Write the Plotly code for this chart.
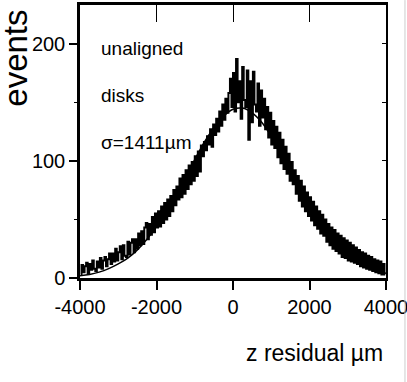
import plotly.graph_objects as go

# histogram of z residuals, 40 um bins from -4000 to 4000
bin_width = 40
bin_centers = list(range(-3980, 4000, bin_width))
counts = [
    3, 11, 5, 10, 13, 4, 12, 7, 15, 8, 6, 14, 9, 17, 8, 15, 18, 10, 16, 21,
    12, 21, 14, 25, 15, 22, 27, 16, 28, 19, 18, 31, 20, 30, 33, 22, 33, 25, 38, 28,
    40, 29, 43, 47, 33, 46, 37, 52, 39, 55, 43, 57, 44, 61, 47, 64, 50, 67, 53, 70,
    57, 75, 62, 78, 67, 85, 69, 88, 72, 92, 76, 96, 80, 99, 83, 104, 87, 108, 91, 113,
    104, 116, 109, 121, 114, 127, 112, 131, 122, 136, 125, 142, 130, 148, 135, 153, 141, 158, 170, 146,
    175, 142, 187, 150, 168, 136, 180, 152, 146, 177, 118, 168, 133, 176, 148, 142, 166, 130, 160, 137,
    153, 127, 146, 120, 141, 114, 134, 111, 129, 103, 124, 98, 118, 93, 112, 89, 106, 83, 99, 80,
    92, 72, 87, 66, 83, 61, 78, 57, 73, 53, 69, 49, 65, 45, 61, 42, 57, 38, 54, 36,
    50, 31, 46, 28, 43, 25, 41, 23, 38, 21, 36, 18, 34, 17, 32, 15, 30, 14, 28, 13,
    26, 12, 24, 10, 22, 9, 21, 8, 19, 7, 18, 6, 16, 5, 15, 4, 14, 3, 12, 3,
]

# gaussian fit curve
fit_x = list(range(-4000, 4001, 250))
fit_y = [2, 3, 5, 8, 12, 17, 24, 33, 44, 57, 71, 86, 101, 116, 128, 138, 144,
         145, 141, 133, 121, 107, 92, 77, 62, 49, 37, 27, 19, 13, 9, 6, 4]

x_ticks = [-4000, -2000, 0, 2000, 4000]
x_labels = ["-4000", "-2000", "0", "2000", "4000"]
y_ticks = [0, 100, 200]

sans = "Liberation Sans, Arial"

fig = go.Figure()
fig.add_trace(go.Scatter(x=bin_centers, y=counts, mode="lines", line_shape="hvh",
                         line=dict(color="black", width=2), showlegend=False))
fig.add_trace(go.Scatter(x=fit_x, y=fit_y, mode="lines", line_shape="spline",
                         line=dict(color="black", width=1.5), showlegend=False))
# dummy trace for the top/right axes
fig.add_trace(go.Scatter(x=[0], y=[0], xaxis="x2", yaxis="y2", mode="markers",
                         marker=dict(opacity=0), showlegend=False, hoverinfo="skip"))

fig.update_layout(
    width=407, height=382,
    margin=dict(l=80, r=21, t=5, b=104),
    paper_bgcolor="white", plot_bgcolor="white",
    font=dict(family=sans, color="black", size=20),
    xaxis=dict(range=[-4000, 4000], tickvals=x_ticks, ticktext=x_labels,
               ticks="outside", ticklen=9, tickwidth=1.5, tickcolor="black",
               showgrid=False, zeroline=False, showline=True, linecolor="black",
               linewidth=3, ticklabeloverflow="allow", automargin=False,
               tickfont=dict(family=sans, size=20)),
    yaxis=dict(range=[0, 233], tickvals=y_ticks, ticks="outside", ticklen=8,
               tickwidth=1.5, tickcolor="black", showgrid=False, zeroline=False,
               showline=True, linecolor="black", linewidth=2.5, automargin=False,
               minor=dict(tickvals=[50, 150], ticks="outside", ticklen=3,
                          tickcolor="black", tickwidth=1, showgrid=False),
               tickfont=dict(family=sans, size=20)),
    xaxis2=dict(range=[-4000, 4000], overlaying="x", side="top",
                tickvals=[-2000, 0, 2000], ticks="inside", ticklen=17, tickwidth=1,
                tickcolor="black", showticklabels=False, showgrid=False,
                zeroline=False, showline=True, linecolor="black", linewidth=2.5),
    yaxis2=dict(range=[0, 233], overlaying="y", side="right",
                tickvals=[50, 100, 150, 200], ticks="inside", ticklen=4, tickwidth=1,
                tickcolor="black", showticklabels=False, showgrid=False,
                zeroline=False, showline=True, linecolor="black", linewidth=2),
)

for label, ypos in [("unaligned", 0.839), ("disks", 0.667), ("σ=1411µm", 0.498)]:
    fig.add_annotation(text=label, x=0.062, y=ypos, xref="paper", yref="paper",
                       xanchor="left", yanchor="middle", showarrow=False,
                       font=dict(family=sans, size=19))
fig.add_annotation(text="events", x=-0.21, y=0.806, xref="paper", yref="paper",
                   textangle=-90, xanchor="center", yanchor="middle", showarrow=False,
                   font=dict(family=sans, size=33))
fig.add_annotation(text="z residual µm", x=0.997, y=-0.275, xref="paper", yref="paper",
                   xanchor="right", yanchor="middle", showarrow=False,
                   font=dict(family=sans, size=23))

# thin grey page edge on the right
fig.add_shape(type="line", xref="paper", yref="paper", x0=1.062, x1=1.062,
              y0=-0.381, y1=1.018, line=dict(color="#cccccc", width=1))

fig.write_html("out.html", config={"displayModeBar": False},
               post_script="document.body.style.margin='0';")
